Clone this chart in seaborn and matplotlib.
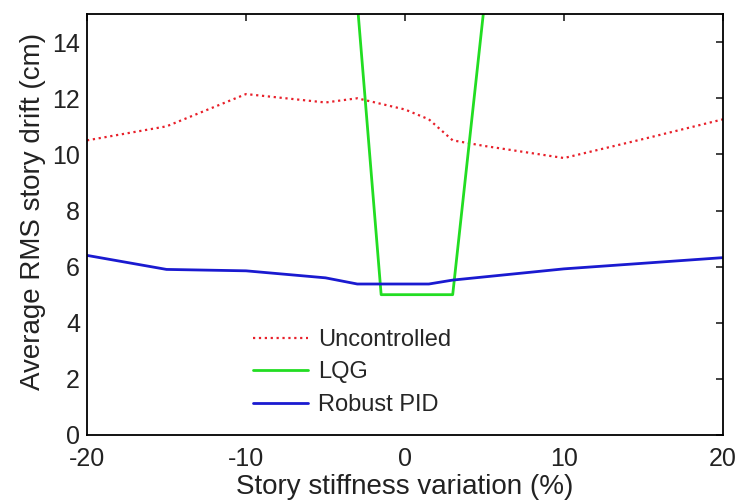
import matplotlib
matplotlib.use("Agg")
import matplotlib.pyplot as plt
import seaborn as sns

# data
unc_x = [-20, -15, -10, -5, -3, 0, 1.5, 3, 5, 10, 15, 20]
unc_y = [10.5, 11.0, 12.15, 11.85, 12.0, 11.6, 11.25, 10.5, 10.3, 9.87, 10.55, 11.25]

lqg_x = [-3, -1.5, 3, 5]
lqg_y = [15.4, 5.0, 5.0, 15.4]

pid_x = [-20, -15, -10, -5, -3, 0, 1.5, 3, 10, 20]
pid_y = [6.4, 5.9, 5.85, 5.6, 5.38, 5.38, 5.38, 5.52, 5.92, 6.32]

sns.set_style("white")
plt.rcParams['font.family'] = ['Liberation Sans', 'DejaVu Sans']
plt.rcParams['axes.unicode_minus'] = False

fig = plt.figure(figsize=(7.4, 5.04), dpi=100)
ax = fig.add_axes([0.1176, 0.137, 0.8594, 0.835])

sns.lineplot(x=unc_x, y=unc_y, ax=ax, color='#e8202a', linestyle=':', linewidth=1.6,
             label='Uncontrolled')
sns.lineplot(x=lqg_x, y=lqg_y, ax=ax, color='#22dd22', linewidth=2.0, label='LQG')
sns.lineplot(x=pid_x, y=pid_y, ax=ax, color='#1a1ad0', linewidth=2.0, label='Robust PID')

ax.set_xlim(-20, 20)
ax.set_ylim(0, 15)
ax.set_xticks([-20, -10, 0, 10, 20])
ax.set_yticks(range(0, 15, 2))
ax.tick_params(direction='in', top=True, right=True, length=5, width=1.2,
               labelsize=18, colors='#222222', pad=5)
ax.tick_params(axis='x', pad=9)
for s in ax.spines.values():
    s.set_color('black')
    s.set_linewidth(1.3)

ax.set_xlabel('Story stiffness variation (%)', fontsize=20, labelpad=2, color='#222222')
ax.set_ylabel('Average RMS story drift (cm)', fontsize=20, color='#222222')
ax.yaxis.set_label_coords(-0.065, 0.53)

ax.legend(loc='lower left', bbox_to_anchor=(0.261, 0.045), frameon=False, fontsize=17,
          handlelength=2.35, handletextpad=0.4, labelspacing=0.45,
          borderpad=0, borderaxespad=0)

fig.savefig('out.png', dpi=100, facecolor='white')
